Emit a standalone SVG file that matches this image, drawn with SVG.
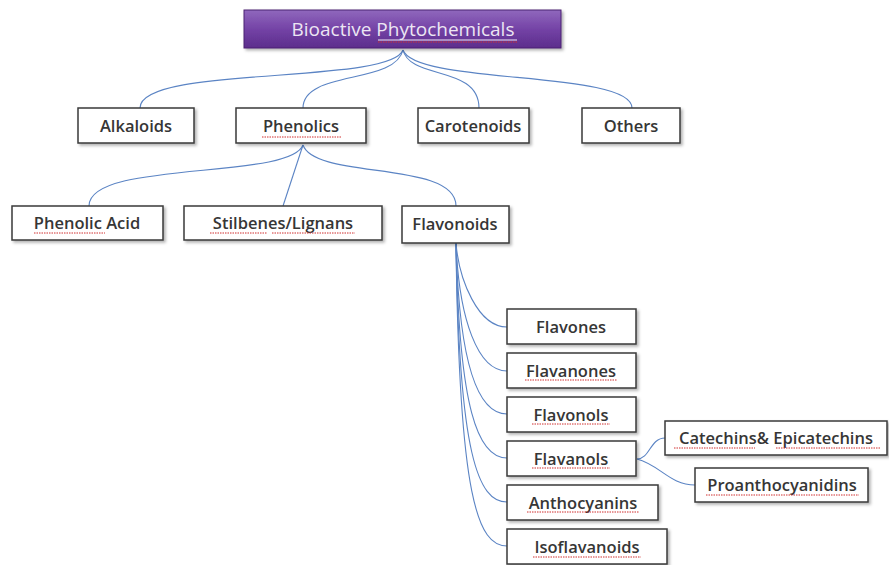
<svg xmlns="http://www.w3.org/2000/svg" width="889" height="565" viewBox="0 0 889 565">
<defs>
<linearGradient id="tg" x1="0" y1="0" x2="0" y2="1">
<stop offset="0" stop-color="#9068bd"/>
<stop offset="0.5" stop-color="#7443a6"/>
<stop offset="1" stop-color="#5c2d8c"/>
</linearGradient>
<filter id="sh" x="-10%" y="-20%" width="130%" height="160%">
<feDropShadow dx="2" dy="2" stdDeviation="1.5" flood-color="#000" flood-opacity="0.3"/>
</filter>
</defs>
<style>
.box{fill:#fff;stroke:#3a3a3a;stroke-width:1.5;filter:url(#sh)}
.t{font-family:"Open Sans","Liberation Sans",sans-serif;font-size:16.5px;font-weight:600;fill:#363636;text-anchor:middle}
.c{fill:none;stroke:#5b84c4;stroke-width:1.1}
.sq{stroke:#d03030;stroke-width:1;stroke-dasharray:1.5 1}
</style>
<rect width="889" height="565" fill="#fff"/>
<g id="connectors">
<path class="c" d="M403,50 C390,85 140,65 140,108"/>
<path class="c" d="M403,50 C395,85 303,70 303,108"/>
<path class="c" d="M403,50 C410,80 479,65 479,108"/>
<path class="c" d="M403,50 C415,85 632,70 632,108"/>
<path class="c" d="M303,145 C290,180 89,160 89,206"/>
<path class="c" d="M303,145 L283,206"/>
<path class="c" d="M303,145 C315,180 456,160 456,206"/>
<path class="c" d="M456,243 C459,280 478,327 507,327"/>
<path class="c" d="M456,243 C459,320 478,371 507,371"/>
<path class="c" d="M456,243 C459,365 478,414 507,414"/>
<path class="c" d="M456,243 C459,410 478,458 507,458"/>
<path class="c" d="M456,243 C459,455 478,502 507,502"/>
<path class="c" d="M456,243 C459,500 478,546 507,546"/>
<path class="c" d="M637,459 C650,459 650,438 665,438"/>
<path class="c" d="M637,459 C660,465 670,485 695,485"/>
</g>
<g id="bioactive">
<rect x="244" y="10" width="317" height="38" fill="url(#tg)" stroke="#4b2272" stroke-width="1" filter="url(#sh)"/>
<text x="403" y="36" class="t" style="font-size:19px;font-weight:400;fill:#ece6f3">Bioactive Phytochemicals</text>
<line x1="378" y1="40" x2="517" y2="40" stroke="#ece6f3" stroke-width="1"/>
<line class="sq" x1="378" y1="42" x2="517" y2="42"/>
</g>
<g id="alkaloids"><rect class="box" x="78" y="108" width="116" height="35"/><text class="t" x="136" y="132">Alkaloids</text></g>
<g id="phenolics"><rect class="box" x="236" y="108" width="130" height="35"/><text class="t" x="301" y="132">Phenolics</text><line class="sq" x1="262" y1="137" x2="342" y2="137"/></g>
<g id="carotenoids"><rect class="box" x="418" y="108" width="111" height="35"/><text class="t" x="473" y="132">Carotenoids</text></g>
<g id="others"><rect class="box" x="582" y="108" width="98" height="35"/><text class="t" x="631" y="132">Others</text></g>
<g id="phenolic-acid"><rect class="box" x="12" y="206" width="151" height="34"/><text class="t" x="87" y="229">Phenolic Acid</text><line class="sq" x1="34" y1="233" x2="105" y2="233"/></g>
<g id="stilbenes"><rect class="box" x="184" y="206" width="198" height="34"/><text class="t" x="283" y="229">Stilbenes/Lignans</text><line class="sq" x1="210" y1="233" x2="267" y2="233"/><line class="sq" x1="272" y1="233" x2="355" y2="233"/></g>
<g id="flavonoids"><rect class="box" x="402" y="206" width="107" height="37"/><text class="t" x="455" y="230">Flavonoids</text></g>
<g id="flavones"><rect class="box" x="507" y="309" width="129" height="35"/><text class="t" x="571" y="333">Flavones</text></g>
<g id="flavanones"><rect class="box" x="507" y="353" width="129" height="35"/><text class="t" x="571" y="377">Flavanones</text><line class="sq" x1="525" y1="380" x2="617" y2="380"/></g>
<g id="flavonols"><rect class="box" x="507" y="397" width="129" height="35"/><text class="t" x="571" y="421">Flavonols</text><line class="sq" x1="532" y1="424" x2="610" y2="424"/></g>
<g id="flavanols"><rect class="box" x="507" y="441" width="129" height="35"/><text class="t" x="571" y="465">Flavanols</text><line class="sq" x1="532" y1="468" x2="610" y2="468"/></g>
<g id="anthocyanins"><rect class="box" x="507" y="485" width="151" height="35"/><text class="t" x="583" y="509">Anthocyanins</text><line class="sq" x1="527" y1="512" x2="639" y2="512"/></g>
<g id="isoflavanoids"><rect class="box" x="507" y="529" width="160" height="35"/><text class="t" x="587" y="553">Isoflavanoids</text><line class="sq" x1="533" y1="557" x2="641" y2="557"/></g>
<g id="catechins"><rect class="box" x="665" y="421" width="222" height="34"/><text class="t" x="776" y="444">Catechins&amp; Epicatechins</text><line class="sq" x1="674" y1="448" x2="755" y2="448"/><line class="sq" x1="776" y1="448" x2="880" y2="448"/></g>
<g id="proanthocyanidins"><rect class="box" x="695" y="468" width="173" height="34"/><text class="t" x="782" y="491">Proanthocyanidins</text><line class="sq" x1="706" y1="495" x2="859" y2="495"/></g>
</svg>
